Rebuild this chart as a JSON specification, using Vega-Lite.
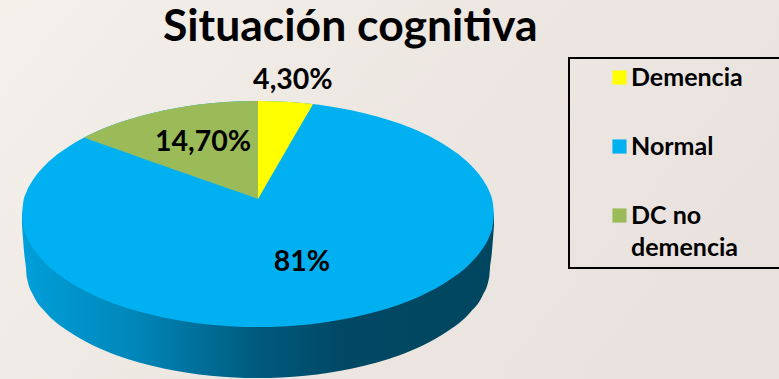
{"$schema":"https://vega.github.io/schema/vega-lite/v6.json","width":779,"height":379,"autosize":{"type":"none"},"padding":0,"background":"#efe9e2","title":{"text":"Situación cognitiva","anchor":"start","frame":"group","dx":163,"offset":-50,"font":"Lato","fontSize":44.5,"fontWeight":"bold","color":"#000000"},"config":{"view":{"stroke":null,"fill":{"x1":0,"x2":1,"y1":0,"y2":0.4,"gradient":"linear","stops":[{"offset":0,"color":"#f4f0ea"},{"offset":0.5,"color":"#eee8e3"},{"offset":1,"color":"#e9e2de"}]}},"legend":{"strokeWidth":2}},"datasets":{"side":[{"x":-1,"y":0,"y2":-0.1},{"x":-0.99,"y":0,"y2":-0.36},{"x":-0.983,"y":0,"y2":-0.478},{"x":-0.98,"y":0,"y2":-0.555},{"x":-0.95,"y":0,"y2":-0.728},{"x":-0.9,"y":0,"y2":-0.869},{"x":-0.8,"y":0,"y2":-1.043},{"x":-0.7,"y":0,"y2":-1.161},{"x":-0.6,"y":0,"y2":-1.249},{"x":-0.5,"y":0,"y2":-1.316},{"x":-0.4,"y":0,"y2":-1.367},{"x":-0.3,"y":0,"y2":-1.405},{"x":-0.2,"y":0,"y2":-1.431},{"x":-0.1,"y":0,"y2":-1.446},{"x":0,"y":0,"y2":-1.451},{"x":0.1,"y":0,"y2":-1.446},{"x":0.2,"y":0,"y2":-1.431},{"x":0.3,"y":0,"y2":-1.405},{"x":0.4,"y":0,"y2":-1.367},{"x":0.5,"y":0,"y2":-1.316},{"x":0.6,"y":0,"y2":-1.249},{"x":0.7,"y":0,"y2":-1.161},{"x":0.8,"y":0,"y2":-1.043},{"x":0.9,"y":0,"y2":-0.869},{"x":0.95,"y":0,"y2":-0.728},{"x":0.98,"y":0,"y2":-0.555},{"x":0.983,"y":0,"y2":-0.478},{"x":0.99,"y":0,"y2":-0.36},{"x":1,"y":0,"y2":-0.1}],"normal":[{"slice":"Normal","x":-1,"y":0,"y2":0},{"slice":"Normal","x":-0.995,"y":0.0999,"y2":-0.0999},{"slice":"Normal","x":-0.98,"y":0.199,"y2":-0.199},{"slice":"Normal","x":-0.95,"y":0.312,"y2":-0.312},{"slice":"Normal","x":-0.9,"y":0.436,"y2":-0.436},{"slice":"Normal","x":-0.8,"y":0.6,"y2":-0.6},{"slice":"Normal","x":-0.7,"y":0.714,"y2":-0.714},{"slice":"Normal","x":-0.6,"y":0.8,"y2":-0.8},{"slice":"Normal","x":-0.5,"y":0.866,"y2":-0.866},{"slice":"Normal","x":-0.4,"y":0.917,"y2":-0.917},{"slice":"Normal","x":-0.3,"y":0.954,"y2":-0.954},{"slice":"Normal","x":-0.2,"y":0.98,"y2":-0.98},{"slice":"Normal","x":-0.1,"y":0.995,"y2":-0.995},{"slice":"Normal","x":0,"y":1,"y2":-1},{"slice":"Normal","x":0.1,"y":0.995,"y2":-0.995},{"slice":"Normal","x":0.2,"y":0.98,"y2":-0.98},{"slice":"Normal","x":0.3,"y":0.954,"y2":-0.954},{"slice":"Normal","x":0.4,"y":0.917,"y2":-0.917},{"slice":"Normal","x":0.5,"y":0.866,"y2":-0.866},{"slice":"Normal","x":0.6,"y":0.8,"y2":-0.8},{"slice":"Normal","x":0.7,"y":0.714,"y2":-0.714},{"slice":"Normal","x":0.8,"y":0.6,"y2":-0.6},{"slice":"Normal","x":0.9,"y":0.436,"y2":-0.436},{"slice":"Normal","x":0.95,"y":0.312,"y2":-0.312},{"slice":"Normal","x":0.98,"y":0.199,"y2":-0.199},{"slice":"Normal","x":0.995,"y":0.0999,"y2":-0.0999},{"slice":"Normal","x":1,"y":0,"y2":0}],"wedges":[{"slice":"DC no demencia","x":-0.733,"y":0.68,"y2":0.673},{"slice":"DC no demencia","x":-0.7,"y":0.714,"y2":0.649},{"slice":"DC no demencia","x":-0.6,"y":0.8,"y2":0.575},{"slice":"DC no demencia","x":-0.5,"y":0.866,"y2":0.501},{"slice":"DC no demencia","x":-0.4,"y":0.917,"y2":0.428},{"slice":"DC no demencia","x":-0.3,"y":0.954,"y2":0.354},{"slice":"DC no demencia","x":-0.2,"y":0.98,"y2":0.28},{"slice":"DC no demencia","x":-0.1,"y":0.995,"y2":0.207},{"slice":"DC no demencia","x":0,"y":1,"y2":0.133},{"slice":"Demencia","x":0,"y":1,"y2":0.133},{"slice":"Demencia","x":0.1,"y":0.995,"y2":0.493},{"slice":"Demencia","x":0.2,"y":0.98,"y2":0.853},{"slice":"Demencia","x":0.233,"y":0.972,"y2":0.972}],"labels":[{"slice":"Demencia","share":"4,30%","x":0.148,"y":1.186},{"slice":"DC no demencia","share":"14,70%","x":-0.233,"y":0.637},{"slice":"Normal","share":"81%","x":0.186,"y":-0.425}]},"encoding":{"x":{"field":"x","type":"quantitative","axis":null,"scale":{"domain":[-1.0932,2.2076],"nice":false,"zero":false}},"y":{"field":"y","type":"quantitative","axis":null,"stack":null,"scale":{"domain":[-1.4602,1.8938],"nice":false,"zero":false}}},"layer":[{"data":{"name":"side"},"mark":{"type":"area","interpolate":"monotone","fill":{"x1":0,"x2":1,"y1":0,"y2":0,"gradient":"linear","stops":[{"offset":0,"color":"#009fda"},{"offset":0.25,"color":"#0085b6"},{"offset":0.5,"color":"#005a7e"},{"offset":0.68,"color":"#004864"},{"offset":1,"color":"#004660"}]}},"encoding":{"y2":{"field":"y2"}}},{"data":{"name":"normal"},"mark":{"type":"area","interpolate":"monotone"},"encoding":{"y2":{"field":"y2"},"color":{"field":"slice","type":"nominal","scale":{"domain":["Demencia","Normal","DC no demencia"],"range":["#ffff00","#00b0f0","#9bbb59"]},"legend":{"title":null,"orient":"none","legendX":569,"legendY":58,"padding":7,"strokeColor":"#000000","symbolType":"square","symbolSize":200,"symbolOffset":31,"symbolStrokeWidth":0,"labelFont":"Lato","labelFontSize":25,"labelFontWeight":"bold","labelColor":"#000000","labelOffset":-1,"labelLimit":220,"rowPadding":43,"labelExpr":"datum.label == 'DC no demencia' ? ['DC no','demencia\u00a0\u00a0\u00a0\u00a0\u00a0\u00a0\u00a0\u00a0\u200b'] : datum.label","encode":{"labels":{"update":{"lineHeight":{"value":32}}}}}}}},{"data":{"name":"wedges"},"mark":{"type":"area","interpolate":"monotone"},"encoding":{"y2":{"field":"y2"},"color":{"field":"slice","type":"nominal"}}},{"data":{"name":"labels"},"mark":{"type":"text","font":"Lato","fontSize":28.5,"fontWeight":"bold","color":"#000000"},"encoding":{"text":{"field":"share"}}}]}
